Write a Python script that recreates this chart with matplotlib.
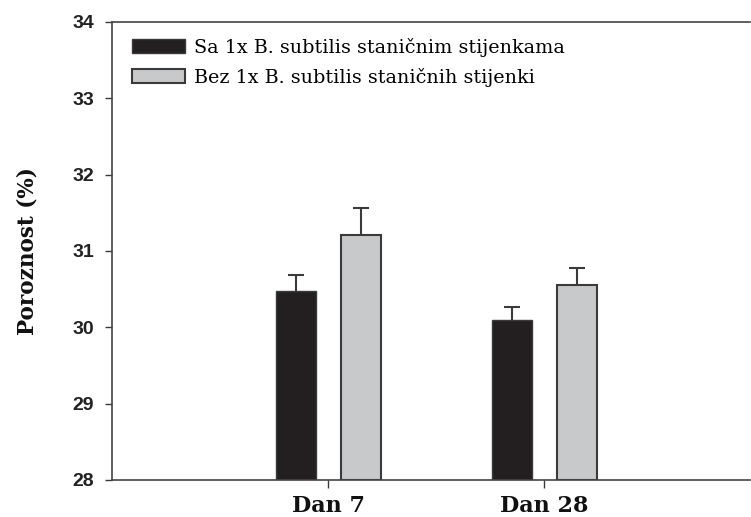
import numpy as np
import matplotlib
matplotlib.use('Agg')
import matplotlib.pyplot as plt

# values
days = ['Dan 7', 'Dan 28']
with_walls = [30.47, 30.09]
with_walls_err = [0.21, 0.17]
without_walls = [31.21, 30.56]
without_walls_err = [0.35, 0.22]
labels = ['Sa 1x B. subtilis staničnim stijenkama', 'Bez 1x B. subtilis staničnih stijenki']
yticks = [28, 29, 30, 31, 32, 33, 34]

fig = plt.figure(figsize=(7.51, 5.17), dpi=100)
ax = fig.add_axes([0.1491, 0.0716, 0.8495, 0.886])

x = np.arange(1, len(days) + 1)
w = 0.185
off = 0.15
edge = '#3a3a3a'
ax.bar(x - off, np.array(with_walls) - 28, w, bottom=28, color='#231f20', edgecolor=edge,
       linewidth=1.0, label=labels[0], zorder=2)
ax.bar(x + off, np.array(without_walls) - 28, w, bottom=28, color='#c8c9cb', edgecolor=edge,
       linewidth=1.5, label=labels[1], zorder=2)
for vals, errs, dx in [(with_walls, with_walls_err, -off), (without_walls, without_walls_err, off)]:
    eb = ax.errorbar(x + dx, vals, yerr=[np.zeros(2), errs], fmt='none',
                     ecolor=edge, elinewidth=1.5, capsize=6, capthick=1.5, zorder=1)
    eb[1][0].set_visible(False)  # hide the lower cap, only upper whiskers

ax.set_xlim(0, 2.95)
ax.set_ylim(28, 34)
ax.set_yticks(yticks)
ax.set_yticklabels([str(t) for t in yticks], fontfamily='Liberation Sans', fontweight='bold',
                   fontsize=14, color='#222222')
ax.set_xticks(x)
ax.set_xticklabels(days, fontfamily='DejaVu Serif', fontweight='bold', fontsize=16, color='#111111')
ax.tick_params(axis='y', direction='out', length=5, width=1.0, color=edge, pad=8)
ax.tick_params(axis='x', direction='out', length=6, width=1.0, color=edge, pad=5)
for s in ['left', 'bottom', 'top']:
    ax.spines[s].set_color('#444444')
    ax.spines[s].set_linewidth(1.2)
ax.spines['right'].set_visible(False)

ax.set_ylabel('Poroznost (%)', fontfamily='DejaVu Serif', fontweight='bold', fontsize=15.5,
              color='#111111', labelpad=24)

ax.legend(loc='upper left', bbox_to_anchor=(0.031, 0.965), frameon=False, borderpad=0,
          borderaxespad=0, handlelength=2.8, handleheight=0.73, handletextpad=0.45,
          labelspacing=0.56, prop={'family': 'DejaVu Serif', 'size': 13.8})

fig.savefig('out.png', dpi=100)
